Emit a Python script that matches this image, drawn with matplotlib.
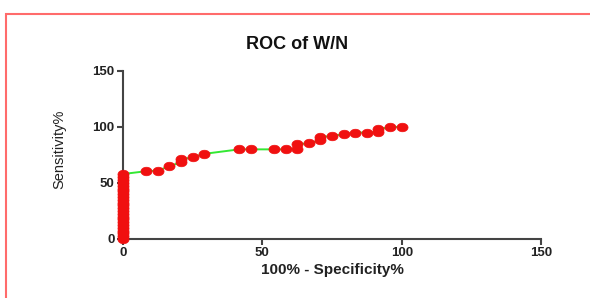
import matplotlib.pyplot as plt
import matplotlib.patches as patches
from matplotlib.path import Path
from matplotlib.transforms import Affine2D

# ROC points (100% - specificity, sensitivity)
col_sens = [0, 2.5, 5, 7.5, 10, 12.5, 15, 17.5, 20, 22.5, 25, 27.5, 30, 32.5,
            35, 37.5, 40, 42.5, 45, 47.5, 50, 52.5, 55, 58]
fpr_rest = [8.33, 12.5, 16.67, 20.83, 20.83, 25, 29.17, 41.67, 45.83, 54.17,
            58.33, 62.5, 62.5, 66.67, 70.83, 70.83, 75, 79.17, 83.33, 87.5,
            91.67, 91.67, 95.83, 100]
sens_rest = [60.5, 61, 65, 68.5, 71, 73, 76, 80, 80, 80, 80, 80.5, 84.5, 85.5,
             88, 91, 92, 93.5, 95, 95, 95.5, 98, 100, 100]

fpr = [0] * len(col_sens) + fpr_rest
sens = col_sens + sens_rest

xticks = [0, 50, 100, 150]
yticks = [0, 50, 100, 150]

plt.rcParams['font.family'] = ['Liberation Sans', 'DejaVu Sans']

# slightly wide oval marker, like the stretched original
oval = Path.unit_circle().transformed(Affine2D().scale(1.3, 1.0))

fig = plt.figure(figsize=(5.9, 2.98), dpi=100)
ax = fig.add_axes([0.2085, 0.198, 0.7085, 0.564])

ax.plot(fpr, sens, color="#33e833", lw=1.4, zorder=2, clip_on=False)
ax.plot(fpr, sens, ls="none", marker=oval, color="#f01010", ms=8,
        mec="#f01010", mew=0.5, zorder=3, clip_on=False)

ax.set_xlim(0, 150)
ax.set_ylim(0, 150)
ax.set_xticks(xticks)
ax.set_yticks(yticks)
for s in ["top", "right"]:
    ax.spines[s].set_visible(False)
for s in ["left", "bottom"]:
    ax.spines[s].set_color("#444444")
    ax.spines[s].set_linewidth(1.5)
ax.tick_params(direction="out", length=4, width=1.5, color="#444444",
               labelsize=9.5, pad=2)
for lab in ax.get_xticklabels() + ax.get_yticklabels():
    lab.set_fontweight("bold")
    lab.set_color("#222222")

ax.set_xlabel("100% - Specificity%", fontsize=11, fontweight="bold",
              color="#222222", labelpad=3)
ax.set_ylabel("Sensitivity%", fontsize=10.5, color="#222222")
ax.yaxis.set_label_coords(-0.136, 0.536)

fig.text(0.503, 0.849, "ROC of W/N", fontsize=13, fontweight="bold",
         ha="center", va="center", color="#111111")

# red frame
fig.add_artist(patches.Rectangle((6 / 590, -0.1), 1.2, 1 - 14 / 298 + 0.1,
                                 transform=fig.transFigure, fill=False,
                                 edgecolor="#ff6b6b", lw=1.5))

plt.savefig("out.png", dpi=100)
